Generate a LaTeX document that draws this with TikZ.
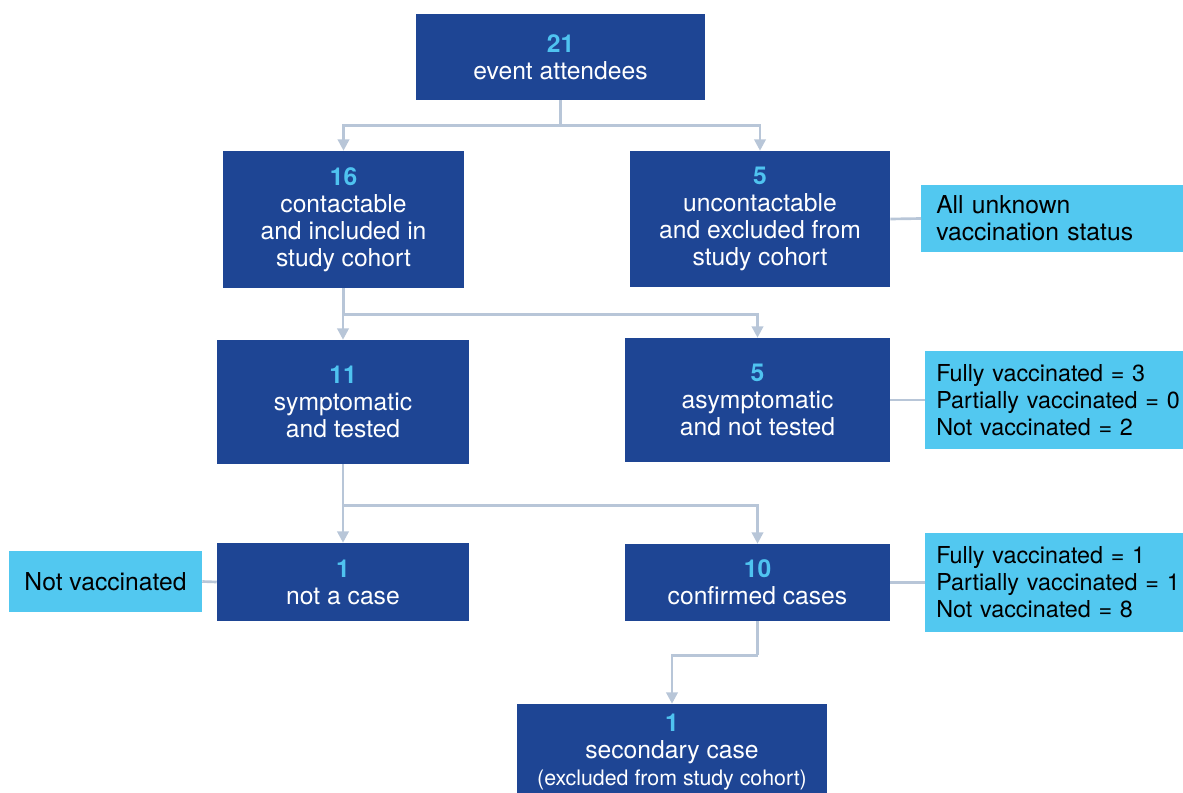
\documentclass[tikz,border=0pt]{standalone}
\usepackage{fontspec}
\setmainfont{TeX Gyre Heros}
\usetikzlibrary{arrows.meta}
\definecolor{dblue}{HTML}{1E4594}
\definecolor{numc}{HTML}{4FC3F0}
\definecolor{cfill}{HTML}{52C8F0}
\definecolor{connc}{HTML}{B8C6D8}
\newcommand{\bignum}[1]{\textbf{\textcolor{numc}{#1}}}
\tikzset{
  dbox/.style={fill=dblue, text=white, align=center, inner sep=0pt,
    font=\fontsize{18.5}{20.25}\selectfont},
  cbox/.style={fill=cfill, text=black, align=left, inner sep=0pt,
    font=\fontsize{18.5}{20.25}\selectfont},
  rbox/.style={cbox, anchor=west, minimum width=340*0.75pt, text width=318*0.75pt, inner xsep=11*0.75pt,
    font=\fontsize{17.5}{20.25}\selectfont},
  conn/.style={draw=connc, line width=2pt},
  arr/.style={conn, -{Triangle[width=8.5pt,length=8.5pt]}},
}
\begin{document}
\begin{tikzpicture}[x=0.75pt,y=-0.75pt]
\useasboundingbox (0,0) rectangle (1183,793);
\clip (0,0) rectangle (1183,793);
% main boxes
\node[dbox, minimum width=289*0.75pt, minimum height=86*0.75pt] (a) at (560.5,57) {\bignum{21}\\event attendees};
\node[dbox, minimum width=241*0.75pt, minimum height=137*0.75pt] (b) at (343.5,219.5) {\bignum{16}\\contactable\\and included in\\study cohort};
\node[dbox, minimum width=260*0.75pt, minimum height=136*0.75pt] (c) at (760,219) {\bignum{5}\\uncontactable\\and excluded from\\study cohort};
\node[dbox, minimum width=252*0.75pt, minimum height=124*0.75pt] (e) at (343,402) {\bignum{11}\\symptomatic\\and tested};
\node[dbox, minimum width=265*0.75pt, minimum height=124*0.75pt] (f) at (757.5,400) {\bignum{5}\\asymptomatic\\and not tested};
\node[dbox, minimum width=252*0.75pt, minimum height=78*0.75pt] (h) at (343,582) {\bignum{1}\\not a case};
\node[dbox, minimum width=265*0.75pt, minimum height=77*0.75pt] (i) at (757.5,582.5) {\bignum{10}\\confirmed cases};
\node[dbox, minimum width=310*0.75pt, minimum height=96*0.75pt] (l) at (672,752) {\bignum{1}\\secondary case\\{\fontsize{16}{20.25}\selectfont (excluded from study cohort)}};
% side boxes
\node[rbox, minimum height=67*0.75pt, inner xsep=15*0.75pt, text width=310*0.75pt, font=\fontsize{18.5}{20.25}\selectfont] (d) at (921,218.5) {All unknown\\vaccination status};
\node[rbox, minimum height=98*0.75pt] (g) at (925,400) {Fully vaccinated = 3\\Partially vaccinated = 0\\Not vaccinated = 2};
\node[rbox, minimum height=99*0.75pt] (j) at (925,582.5) {Fully vaccinated = 1\\Partially vaccinated = 1\\Not vaccinated = 8};
\node[cbox, align=center, minimum width=193*0.75pt, minimum height=61*0.75pt] (k) at (105.5,581.5) {Not vaccinated};
% connectors
\draw[conn] (a.south) -- ++(0,25) coordinate (j1);
\draw[arr] (j1) -| (b.north);
\draw[arr] (j1) -| (c.north);
\draw[conn] (b.south) -- ++(0,26) coordinate (j2);
\draw[arr] (j2) -| (e.north);
\draw[arr] (j2) -| (f.north);
\draw[conn] (e.south) -- ++(0,41) coordinate (j3);
\draw[arr] (j3) -| (h.north);
\draw[arr] (j3) -| (i.north);
\draw[conn] (i.south) -- ++(0,34) coordinate (j4);
\draw[arr] (j4) -| (l.north);
\draw[conn] (c.east) -- (d.west);
\draw[conn] (f.east) -- (g.west);
\draw[conn] (i.east) -- (j.west);
\draw[conn] (k.east) -- (h.west);
\end{tikzpicture}
\end{document}
